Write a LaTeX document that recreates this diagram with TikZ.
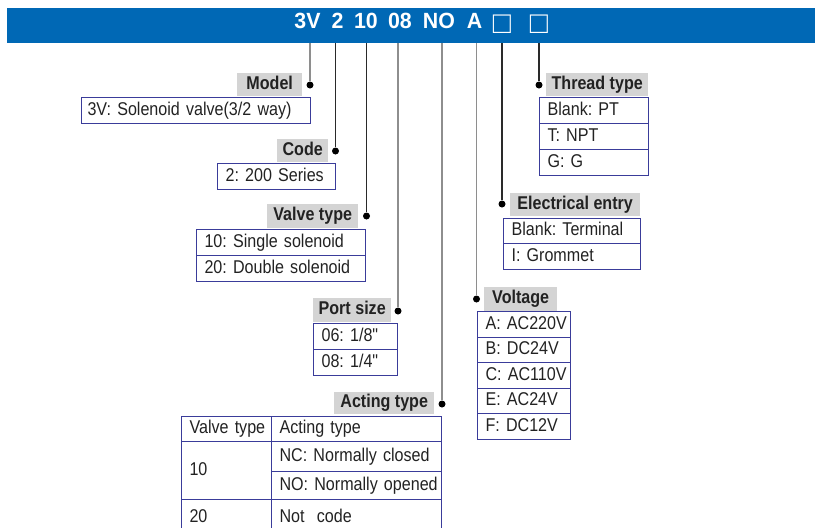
\documentclass[tikz,border=0pt]{standalone}
\usepackage{fontspec}
\setmainfont{Liberation Sans}[FakeStretch=0.87, Ligatures=TeXOff]
\newfontfamily\bannerfont{Liberation Sans}[FakeStretch=0.97]
\frenchspacing
\definecolor{bannerblue}{HTML}{0068B5}
\definecolor{labgray}{HTML}{D4D4D4}
\definecolor{tblue}{HTML}{3A3C9A}
\definecolor{txt}{HTML}{222222}
\definecolor{lgray}{HTML}{8E8E8E}
\definecolor{ldark}{HTML}{2A2A2A}
\newlength\cellpad
\setlength\cellpad{8pt}
\tikzset{
  banner/.style={fill=bannerblue, draw=none, inner sep=0, anchor=north west},
  code/.style={text=white, font=\bannerfont\fontsize{22}{24}\selectfont\bfseries, inner sep=0, anchor=base},
  sq/.style={text=white, font=\bannerfont\fontsize{31}{33}\selectfont, inner sep=0, anchor=base},
  lab/.style={fill=labgray, text=txt, font=\fontsize{18.5}{20}\selectfont\bfseries, inner sep=0, anchor=north west, text height=13pt, text depth=4pt},
  cell/.style={draw=tblue, line width=1.1pt, text=txt, font=\fontsize{18.5}{20}\selectfont\frenchspacing, inner xsep=0pt, inner ysep=0, anchor=north west, align=left, text height=13pt, text depth=4pt, execute at begin node={\noindent\hspace*{\cellpad}}},
  dot/.style={circle, fill=black, inner sep=0, minimum size=7pt},
  conA/.style={draw=lgray, line width=1.5pt},
  conB/.style={draw=ldark, line width=1.1pt}
}
\begin{document}
\begin{tikzpicture}[x=1pt,y=-1pt]
\useasboundingbox (0,0) rectangle (815,528);
% banner
\node[banner, minimum width=808pt, minimum height=35pt] (bar) at (7,8) {};
\node[code] (c1) at (307.5,28.5) {3V};
\node[code] (c2) at (337.5,28.5) {2};
\node[code] (c3) at (366,28.5) {10};
\node[code] (c4) at (400,28.5) {08};
\node[code] (c5) at (439,28.5) {NO};
\node[code] (c6) at (474.5,28.5) {A};
\node[sq] (c7) at (502,33) {□};
\node[sq] (c8) at (539,33) {□};
% dots
\node[dot] (d1) at (310,85) {};
\node[dot] (d2) at (335.5,151) {};
\node[dot] (d3) at (366.5,216) {};
\node[dot] (d4) at (398,311) {};
\node[dot] (d5) at (442,404) {};
\node[dot] (d6) at (476.5,299) {};
\node[dot] (d7) at (502,204) {};
\node[dot] (d8) at (539,85) {};
% connectors
\draw[conA] (bar.south -| d1) -- (d1);
\draw[conB] (bar.south -| d2) -- (d2);
\draw[conB] (bar.south -| d3) -- (d3);
\draw[conA] (bar.south -| d4) -- (d4);
\draw[conA] (bar.south -| d5) -- (d5);
\draw[conA] (bar.south -| d6) -- (d6);
\draw[conB] (bar.south -| d7) -- (d7);
\draw[conB] (bar.south -| d8) -- (d8);
% Model
\node[lab, minimum width=65pt, minimum height=23pt] (lmodel) at (237,73) {Model};
\node[cell, text width=229pt, minimum height=26pt] (model1) at (81,97) {\hspace*{-2pt}3V: Solenoid valve(3/2 way)};
% Code
\node[lab, minimum width=51pt, minimum height=23pt] (lcode) at (277,139) {Code};
\node[cell, text width=118pt, minimum height=26pt] (code1) at (217,163) {2: 200 Series};
% Valve type
\node[lab, minimum width=91pt, minimum height=24pt] (lvalve) at (267,204) {Valve type};
\node[cell, text width=169pt, minimum height=26pt] (valve1) at (196,229) {10: Single solenoid};
\node[cell, text width=169pt, minimum height=26pt] (valve2) at (196,255) {20: Double solenoid};
% Port size
\node[lab, minimum width=78pt, minimum height=24pt] (lport) at (313,298) {Port size};
\node[cell, text width=84pt, minimum height=26pt] (port1) at (313,323) {06: 1/8"};
\node[cell, text width=84pt, minimum height=26pt] (port2) at (313,349) {08: 1/4"};
% Acting type
\node[lab, minimum width=100pt, minimum height=22pt] (lact) at (334,392) {Acting type};
\node[cell, text width=90pt, minimum height=25pt] (a11) at (181,416) {Valve type};
\node[cell, text width=170pt, minimum height=25pt] (a12) at (271,416) {Acting type};
\node[cell, text width=90pt, minimum height=58pt] (a21) at (181,441) {10};
\node[cell, text width=170pt, minimum height=30pt] (a22) at (271,441) {NC: Normally closed};
\node[cell, text width=170pt, minimum height=28pt] (a32) at (271,471) {NO: Normally opened};
\node[cell, text width=90pt, minimum height=36pt] (a41) at (181,499) {20};
\node[cell, text width=170pt, minimum height=36pt] (a42) at (271,499) {Not\ \ code};
% Voltage
\node[lab, minimum width=73pt, minimum height=24pt] (lvolt) at (484,287) {Voltage};
\node[cell, text width=93pt, minimum height=26pt] (v1) at (477,311) {A: AC220V};
\node[cell, text width=93pt, minimum height=25pt] (v2) at (477,337) {B: DC24V};
\node[cell, text width=93pt, minimum height=26pt] (v3) at (477,362) {C: AC110V};
\node[cell, text width=93pt, minimum height=25pt] (v4) at (477,388) {E: AC24V};
\node[cell, text width=93pt, minimum height=26pt] (v5) at (477,413) {F: DC12V};
% Electrical entry
\node[lab, minimum width=130pt, minimum height=23pt] (lelec) at (510,193) {Electrical entry};
\node[cell, text width=137pt, minimum height=25pt] (e1) at (503,218) {Blank: Terminal};
\node[cell, text width=137pt, minimum height=26pt] (e2) at (503,243) {I: Grommet};
% Thread type
\node[lab, minimum width=102pt, minimum height=23pt] (lthread) at (546,73) {Thread type};
\node[cell, text width=109pt, minimum height=26pt] (t1) at (539,97) {Blank: PT};
\node[cell, text width=109pt, minimum height=26pt] (t2) at (539,123) {T: NPT};
\node[cell, text width=109pt, minimum height=26pt] (t3) at (539,149) {G: G};
\end{tikzpicture}
\end{document}
